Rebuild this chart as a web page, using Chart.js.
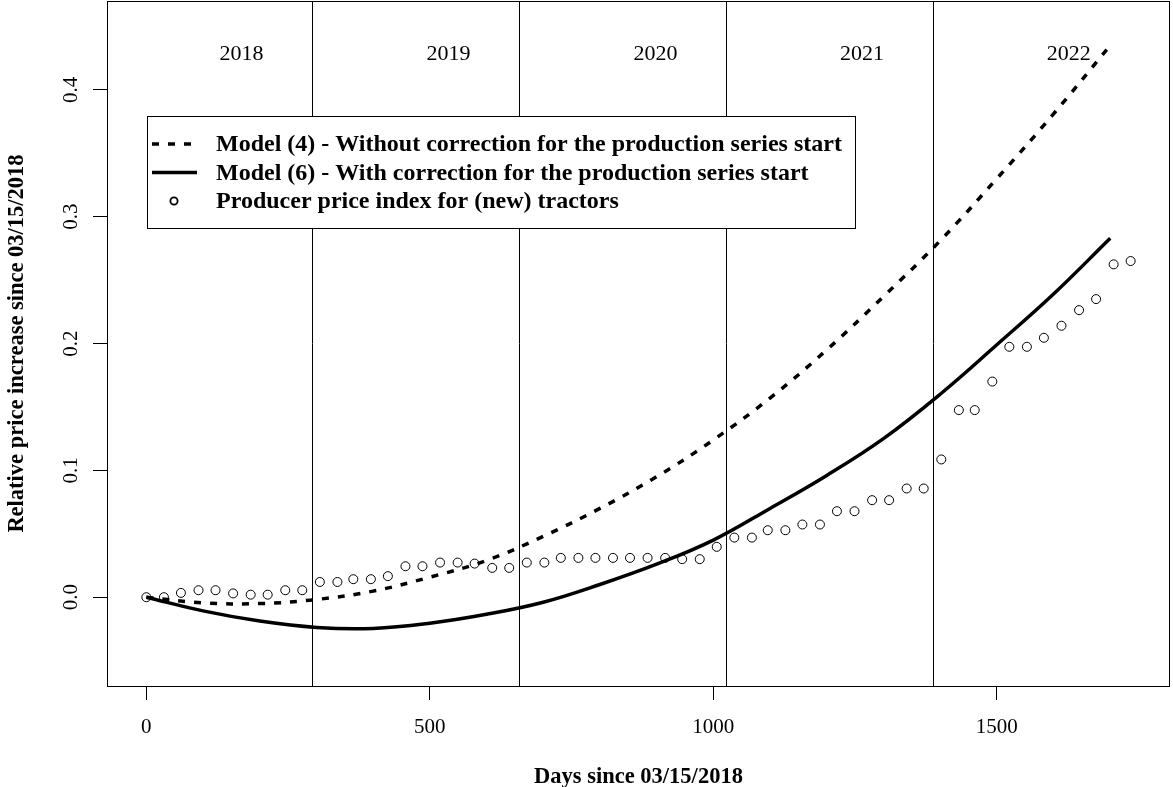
<!DOCTYPE html>
<html>
<head>
<meta charset="utf-8">
<title>Relative price increase</title>
<script src="https://cdn.jsdelivr.net/npm/chart.js@4.4.1/dist/chart.umd.min.js"></script>
<style>
    html, body { margin: 0; padding: 0; background: #ffffff; }
    canvas { display: block; }
</style>
</head>
<body>
<canvas id="chart-ppi" width="1173" height="787"></canvas>
<script>
// producer price index, monthly (15th of each month), days since 03/15/2018
var ppiDays = [0, 31, 61, 92, 122, 153, 184, 214, 245, 275,
    306, 337, 365, 396, 426, 457, 487, 518, 549, 579, 610, 640,
    671, 702, 731, 762, 792, 823, 853, 884, 915, 945, 976, 1006,
    1037, 1068, 1096, 1127, 1157, 1188, 1218, 1249, 1280, 1310, 1341, 1371,
    1402, 1433, 1461, 1492, 1522, 1553, 1583, 1614, 1645, 1675, 1706, 1736];
var ppiValues = [0.000, 0.000, 0.0034, 0.0055, 0.0055, 0.003, 0.002, 0.002, 0.0055, 0.0055,
    0.012, 0.012, 0.0142, 0.0142, 0.0166, 0.0244, 0.0244, 0.0273, 0.0273, 0.0265, 0.0231, 0.0231,
    0.0273, 0.0273, 0.031, 0.031, 0.031, 0.031, 0.031, 0.031, 0.031, 0.030, 0.030, 0.0397,
    0.047, 0.047, 0.0528, 0.0528, 0.0573, 0.0573, 0.0678, 0.0678, 0.0765, 0.0765, 0.0857, 0.0857,
    0.1086, 0.1475, 0.1475, 0.170, 0.1974, 0.1974, 0.2045, 0.214, 0.2263, 0.235, 0.2624, 0.265];

// model curves
var modelDays = [0, 100, 200, 300, 400, 500, 600, 700, 800, 900,
    1000, 1100, 1200, 1300, 1400, 1500, 1600, 1700];
var model4Values = [0.000, -0.0044, -0.0050, -0.0018, 0.0048, 0.0158, 0.029, 0.048, 0.070, 0.095,
    0.124, 0.157, 0.195, 0.237, 0.281, 0.330, 0.381, 0.435];
var model6Values = [0.000, -0.0108, -0.0188, -0.0238, -0.0246, -0.0205, -0.0135, -0.004, 0.010, 0.026,
    0.045, 0.070, 0.096, 0.125, 0.160, 0.199, 0.239, 0.283];

var yearStartDays = [292, 657, 1023, 1388];
var yearLabels = ["2018", "2019", "2020", "2021", "2022"];
var yearLabelDays = [168, 533, 898, 1262, 1627];
var yearLabelLevel = 0.428;

var xTicks = [0, 500, 1000, 1500];
var yTicks = [0.0, 0.1, 0.2, 0.3, 0.4];

var seriesNames = [
    "Model (4) - Without correction for the production series start",
    "Model (6) - With correction for the production series start",
    "Producer price index for (new) tractors"
];

var SERIF = "'Liberation Serif', 'Times New Roman', serif";

function toPoints(xs, ys) {
    return xs.map(function (x, i) { return { x: x, y: ys[i] }; });
}

// box, year separators and year names
var framePlugin = {
    id: "frame",
    beforeDatasetsDraw: function (chart) {
        var ctx = chart.ctx;
        var area = chart.chartArea;
        var xs = chart.scales.x;
        var ys = chart.scales.y;
        ctx.save();
        ctx.strokeStyle = "#000";
        ctx.lineWidth = 1;
        yearStartDays.forEach(function (d) {
            var px = Math.round(xs.getPixelForValue(d)) + 0.5;
            ctx.beginPath();
            ctx.moveTo(px, area.top);
            ctx.lineTo(px, area.bottom);
            ctx.stroke();
        });
        ctx.fillStyle = "#000";
        ctx.font = "22px " + SERIF;
        ctx.textAlign = "center";
        ctx.textBaseline = "middle";
        yearLabels.forEach(function (lbl, i) {
            ctx.fillText(lbl, xs.getPixelForValue(yearLabelDays[i]), ys.getPixelForValue(yearLabelLevel));
        });
        ctx.restore();
    },
    afterDraw: function (chart) {
        var ctx = chart.ctx;
        var area = chart.chartArea;
        var ys = chart.scales.y;
        ctx.save();
        ctx.strokeStyle = "#000";
        ctx.lineWidth = 1;
        ctx.strokeRect(area.left + 0.5, area.top + 0.5, area.right - area.left - 1, area.bottom - area.top);

        // rotated y tick labels, like R's default axis
        ctx.fillStyle = "#000";
        ctx.font = "21px " + SERIF;
        ctx.textAlign = "center";
        ctx.textBaseline = "middle";
        yTicks.forEach(function (v) {
            ctx.save();
            ctx.translate(71, ys.getPixelForValue(v));
            ctx.rotate(-Math.PI / 2);
            ctx.fillText(v.toFixed(1), 0, 0);
            ctx.restore();
        });
        ctx.restore();
    }
};

var legendPlugin = {
    id: "rlegend",
    afterDraw: function (chart) {
        var ctx = chart.ctx;
        var left = 147, top = 116, width = 708, height = 112;
        var rows = [144, 172.5, 201];
        var sets = chart.data.datasets;
        ctx.save();
        ctx.fillStyle = "#fff";
        ctx.fillRect(left, top, width, height);
        ctx.strokeStyle = "#000";
        ctx.lineWidth = 1;
        ctx.strokeRect(left + 0.5, top + 0.5, width, height);

        ctx.lineCap = "butt";
        for (var i = 0; i < 2; i++) {
            ctx.beginPath();
            ctx.lineWidth = sets[i].borderWidth;
            ctx.setLineDash(sets[i].borderDash || []);
            ctx.moveTo(152, rows[i]);
            ctx.lineTo(197, rows[i]);
            ctx.stroke();
        }
        ctx.setLineDash([]);
        ctx.lineWidth = 1.8;
        ctx.beginPath();
        ctx.arc(174, rows[2], 3.6, 0, Math.PI * 2);
        ctx.stroke();

        ctx.fillStyle = "#000";
        ctx.font = "bold 24px " + SERIF;
        ctx.textAlign = "left";
        ctx.textBaseline = "middle";
        sets.forEach(function (ds, k) {
            ctx.fillText(ds.label, 216, rows[k] + 1);
        });
        ctx.restore();
    }
};

var ctx1 = document.getElementById("chart-ppi").getContext("2d");

new Chart(ctx1, {
    type: "scatter",
    data: {
        datasets: [{
            label: seriesNames[0],
            data: toPoints(modelDays, model4Values),
            showLine: true,
            borderColor: "#000",
            borderWidth: 3.5,
            borderDash: [7, 9],
            borderCapStyle: "butt",
            tension: 0.4,
            pointRadius: 0,
            fill: false
        }, {
            label: seriesNames[1],
            data: toPoints(modelDays, model6Values),
            showLine: true,
            borderColor: "#000",
            borderWidth: 3.5,
            tension: 0.4,
            pointRadius: 0,
            fill: false
        }, {
            label: seriesNames[2],
            data: toPoints(ppiDays, ppiValues),
            showLine: false,
            pointStyle: "circle",
            pointRadius: 4.5,
            pointBorderWidth: 1,
            pointBorderColor: "#000",
            pointBackgroundColor: "rgba(0,0,0,0)"
        }]
    },
    options: {
        responsive: false,
        animation: false,
        devicePixelRatio: 1,
        layout: { autoPadding: false, padding: { top: 1, right: 3, left: 0, bottom: 0 } },
        plugins: {
            legend: { display: false },
            tooltip: { enabled: false }
        },
        scales: {
            x: {
                type: "linear",
                min: -69.4,
                max: 1805.4,
                afterBuildTicks: function (scale) {
                    scale.ticks = xTicks.map(function (v) { return { value: v }; });
                },
                afterFit: function (scale) { scale.height = 101; },
                border: { display: false },
                grid: {
                    display: true,
                    drawOnChartArea: false,
                    drawTicks: true,
                    tickLength: 14,
                    color: "#000",
                    lineWidth: 1
                },
                ticks: {
                    color: "#000",
                    padding: 15,
                    maxRotation: 0,
                    font: { size: 21, family: SERIF },
                    callback: function (v) { return String(v); }
                },
                title: {
                    display: true,
                    text: "Days since 03/15/2018",
                    color: "#000",
                    padding: 0,
                    font: { size: 22.5, weight: "bold", family: SERIF, lineHeight: 0.85 }
                }
            },
            y: {
                type: "linear",
                min: -0.07,
                max: 0.47,
                afterBuildTicks: function (scale) {
                    scale.ticks = yTicks.map(function (v) { return { value: v }; });
                },
                afterFit: function (scale) { scale.width = 107; },
                border: { display: false },
                grid: {
                    display: true,
                    drawOnChartArea: false,
                    drawTicks: true,
                    tickLength: 14,
                    color: "#000",
                    lineWidth: 1
                },
                ticks: { display: false },
                title: {
                    display: true,
                    text: "Relative price increase since 03/15/2018",
                    color: "#000",
                    padding: { top: 4, bottom: 0 },
                    font: { size: 22.5, weight: "bold", family: SERIF, lineHeight: 1.2 }
                }
            }
        }
    },
    plugins: [framePlugin, legendPlugin]
});
</script>
</body>
</html>
